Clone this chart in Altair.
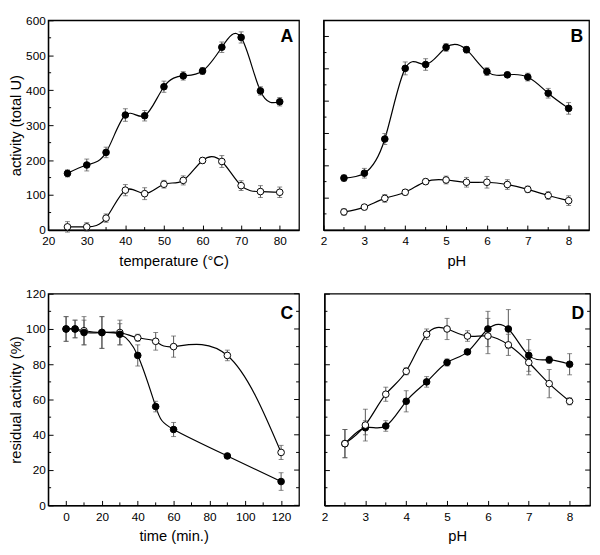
import altair as alt
import pandas as pd

FONT = "Liberation Sans"

# ---------- Panel A: temperature ----------
A_x = [25, 30, 35, 40, 45, 50, 55, 60, 65, 70, 75, 80]
A_filled = [162, 186, 222, 329, 327, 410, 441, 455, 523, 551, 398, 367]
A_filled_err = [10, 17, 15, 18, 15, 16, 12, 10, 15, 16, 12, 12]
A_open = [9, 9, 34, 114, 104, 131, 142, 199, 196, 127, 110, 108]
A_open_err = [15, 12, 12, 16, 17, 11, 13, 8, 17, 14, 17, 15]
A_xticks = [20, 30, 40, 50, 60, 70, 80]
A_xminor = [25, 35, 45, 55, 65, 75]
A_yticks = [0, 100, 200, 300, 400, 500, 600]
A_yminor = [50, 150, 250, 350, 450, 550]

# ---------- Panel B: pH ----------
B_x = [2.5, 3, 3.5, 4, 4.5, 5, 5.5, 6, 6.5, 7, 7.5, 8]
B_filled = [161, 176, 282, 501, 513, 566, 559, 491, 481, 474, 424, 377]
B_filled_err = [10, 15, 17, 20, 18, 12, 10, 12, 8, 12, 15, 18]
B_open = [56, 71, 98, 117, 150, 155, 148, 148, 141, 126, 107, 91]
B_open_err = [10, 8, 12, 8, 8, 12, 15, 18, 15, 10, 12, 15]
B_xticks = [2, 3, 4, 5, 6, 7, 8]
B_xminor = [2.5, 3.5, 4.5, 5.5, 6.5, 7.5]
B_yticks = [0, 100, 200, 300, 400, 500, 600]
B_yminor = [50, 150, 250, 350, 450, 550]

# ---------- Panel C: time ----------
C_x = [0, 5, 10, 20, 30, 40, 50, 60, 90, 120]
C_filled = [100, 100, 98, 98, 97, 85, 56, 43, 28, 13.5]
C_filled_err = [7, 5, 7, 9, 6, 6, 3, 4, 1, 5]
C_open = [100, 100, 99, 98, 98, 95, 93, 90, 85, 30]
C_open_err = [7, 5, 8, 9, 7, 2, 5, 6, 3, 4]
C_xticks = [0, 20, 40, 60, 80, 100, 120]
C_xminor = [10, 30, 50, 70, 90, 110]
C_yticks = [0, 20, 40, 60, 80, 100, 120]
C_yminor = [10, 30, 50, 70, 90, 110]

# ---------- Panel D: pH stability ----------
D_x = [2.5, 3, 3.5, 4, 4.5, 5, 5.5, 6, 6.5, 7, 7.5, 8]
D_filled = [35, 44, 45, 59, 70, 81, 87, 100, 100, 85, 82.5, 80]
D_filled_err = [8, 4, 3, 6, 3, 2, 1, 10, 11, 9, 2, 6]
D_open = [35, 45.5, 63, 76, 97, 100, 96, 96, 91, 81, 69, 59]
D_open_err = [8, 9, 4, 2, 3, 6, 3, 10, 6, 7, 8, 2]
D_xticks = [2, 3, 4, 5, 6, 7, 8]
D_xminor = [2.5, 3.5, 4.5, 5.5, 6.5, 7.5]
D_yticks = [0, 20, 40, 60, 80, 100, 120]
D_yminor = [10, 30, 50, 70, 90, 110]


def make_df(xs, f, fe, o, oe, open_first=True):
    fr = [dict(x=x, v=v, lo=v - e, hi=v + e, s="filled") for x, v, e in zip(xs, f, fe)]
    op = [dict(x=x, v=v, lo=v - e, hi=v + e, s="open") for x, v, e in zip(xs, o, oe)]
    return pd.DataFrame(op + fr if open_first else fr + op)


def make_axis(values, title=None, labels=True, is_x=False):
    return alt.Axis(
        values=values,
        format="d",
        tickSize=alt.ExprRef("-5"),
        tickColor="black",
        tickWidth=1,
        grid=False,
        domain=True,
        domainColor="black",
        domainWidth=1.3,
        labels=labels,
        labelFont=FONT,
        labelFontSize=12,
        labelColor="black",
        labelFlush=False,
        labelOverlap=False,
        labelPadding=11 if is_x else 8,
        titleFont=FONT,
        titleFontSize=15,
        titleFontWeight="normal",
        titleColor="black",
        titlePadding=7 if is_x else 2,
        title=title,
    )


def panel(df, letter, letter_y, xdom, xticks, xminor, xtitle, ydom, yticks, yminor, ytitle,
          ylabels, right_axis, width, height):
    xscale = alt.Scale(domain=xdom, nice=False, zero=False)
    yscale = alt.Scale(domain=ydom, nice=False, zero=False)
    xaxis = make_axis(xticks, title=xtitle, is_x=True)
    yaxis = make_axis(yticks, title=ytitle, labels=ylabels)
    base = alt.Chart(df)
    X = lambda f: alt.X(f, scale=xscale, axis=xaxis)
    Y = lambda f: alt.Y(f, scale=yscale, axis=yaxis)

    line = base.mark_line(interpolate="natural", color="black", strokeWidth=1.2).encode(
        x=X("x:Q"), y=Y("v:Q"), detail="s:N")
    rules = base.mark_rule(color="#555555", strokeWidth=1).encode(
        x=X("x:Q"), y=Y("lo:Q"), y2="hi:Q")
    cap_lo = base.mark_tick(orient="horizontal", size=5, thickness=1, color="#555555").encode(
        x=X("x:Q"), y=Y("lo:Q"))
    cap_hi = base.mark_tick(orient="horizontal", size=5, thickness=1, color="#555555").encode(
        x=X("x:Q"), y=Y("hi:Q"))
    pts = base.mark_point(filled=True, shape="circle", size=46, stroke="black",
                          strokeWidth=1, opacity=1).encode(
        x=X("x:Q"), y=Y("v:Q"),
        fill=alt.Fill("s:N", scale=alt.Scale(domain=["filled", "open"], range=["black", "white"]),
                      legend=None))
    lab = alt.Chart(pd.DataFrame({"t": [letter]})).mark_text(
        text=letter, font=FONT, fontSize=18, fontWeight="bold", align="right",
        baseline="middle", color="black").encode(
        x=alt.value(width - 6), y=alt.value(letter_y))

    ymin_df = pd.DataFrame({"t": yminor})
    xmin_df = pd.DataFrame({"t": xminor})
    ymaj_df = pd.DataFrame({"t": yticks})
    tick_style = dict(color="black", strokeWidth=1)
    y_minor = alt.Chart(ymin_df).mark_rule(**tick_style).encode(
        y=Y("t:Q"), x=alt.value(0), x2=alt.value(3))
    x_minor = alt.Chart(xmin_df).mark_rule(**tick_style).encode(
        x=X("t:Q"), y=alt.value(height), y2=alt.value(height - 3))
    layers = [y_minor, x_minor]
    if right_axis:
        layers.append(alt.Chart(ymin_df).mark_rule(**tick_style).encode(
            y=Y("t:Q"), x=alt.value(width), x2=alt.value(width - 3)))
        layers.append(alt.Chart(ymaj_df).mark_rule(**tick_style).encode(
            y=Y("t:Q"), x=alt.value(width), x2=alt.value(width - 5)))
    ch = alt.layer(line, *layers, rules, cap_lo, cap_hi, pts, lab)
    return ch.properties(width=width, height=height)


LW, RW = 256, 271
TH, BH = 214, 216

A = panel(make_df(A_x, A_filled, A_filled_err, A_open, A_open_err), "A", 17,
          [20, 85], A_xticks, A_xminor, "temperature (°C)",
          [0, 600], A_yticks, A_yminor, "activity (total U)", True, False, LW, TH)
B = panel(make_df(B_x, B_filled, B_filled_err, B_open, B_open_err), "B", 17,
          [2, 8.5], B_xticks, B_xminor, "pH",
          [0, 650], B_yticks, B_yminor, None, False, False, RW, TH)
C = panel(make_df(C_x, C_filled, C_filled_err, C_open, C_open_err, open_first=True), "C", 21,
          [-10, 130], C_xticks, C_xminor, "time (min.)",
          [0, 120], C_yticks, C_yminor, "residual activity (%)", True, True, LW, BH)
D = panel(make_df(D_x, D_filled, D_filled_err, D_open, D_open_err, open_first=False), "D", 21,
          [2, 8.5], D_xticks, D_xminor, "pH",
          [0, 120], D_yticks, D_yminor, None, False, True, RW, BH)

chart = alt.vconcat(
    alt.hconcat(A, B, spacing=20),
    alt.hconcat(C, D, spacing=20),
    spacing=18,
).properties(padding=0, background="white").configure_view(
    stroke="black", strokeWidth=1.3
).configure_axis(labelOverlap=False)

chart.save("out.html", embed_options={"renderer": "svg", "actions": False})
